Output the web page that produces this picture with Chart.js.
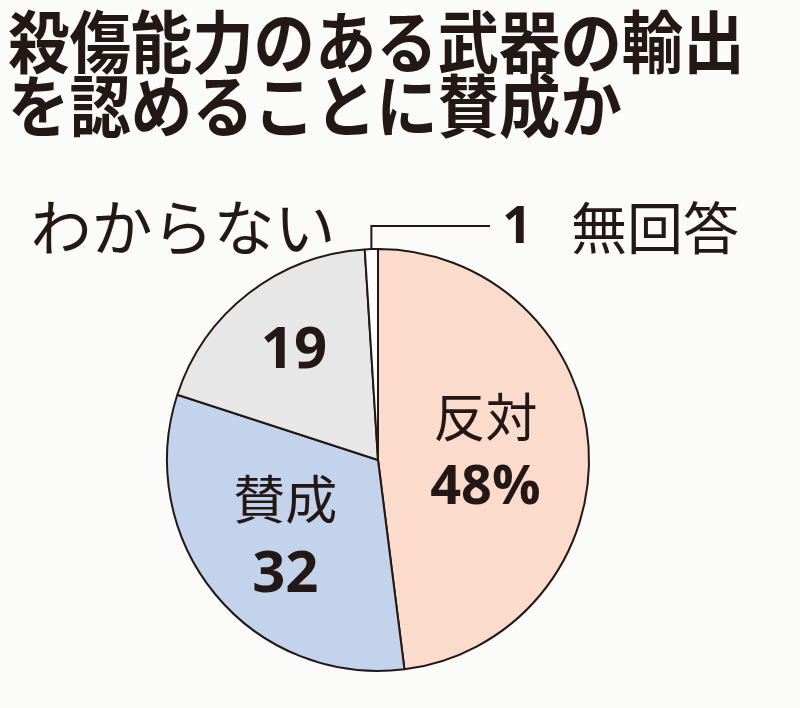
<!DOCTYPE html>
<html><head><meta charset="utf-8">
<script src="https://cdn.jsdelivr.net/npm/chart.js@4"></script>
<style>html,body{margin:0;padding:0;background:#fbfbfa;}#wrap{position:relative;width:800px;height:708px;}</style>
</head><body><div id="wrap"><canvas id="c" width="800" height="708"></canvas></div>
<script>
const titleLines = ["殺傷能力のある武器の輸出", "を認めることに賛成か"];
const categories = ["反対", "賛成", "わからない", "無回答"];
const values = [48, 32, 19, 1];
const valueLabels = ["48%", "32", "19", "1"];
const colors = ["#fbdccc", "#c4d3ec", "#e7e7e7", "#ffffff"];

const ink = "#231815";
const JP = '"Noto Sans CJK JP", "Noto Sans", sans-serif';
const NUM = '"Open Sans", "Noto Sans", sans-serif';

const labelPlugin = {
  id: 'labels',
  afterDraw(chart) {
    const ctx = chart.ctx;
    ctx.save();
    ctx.fillStyle = ink;
    ctx.textBaseline = 'middle';
    // title (slightly tall, condensed look)
    ctx.textAlign = 'left';
    ctx.font = 'bold 62px ' + JP;
    ctx.save();
    ctx.translate(8, 0);
    ctx.scale(0.99, 1.1);
    ctx.fillText(titleLines[0], 0, 42 / 1.1);
    ctx.fillText(titleLines[1], 0, 106 / 1.1);
    ctx.restore();

    const meta = chart.getDatasetMeta(0);
    const arcs = meta.data;
    const place = (arc, frac) => {
      const mid = (arc.startAngle + arc.endAngle) / 2;
      const r = arc.outerRadius * frac;
      return {x: arc.x + Math.cos(mid) * r, y: arc.y + Math.sin(mid) * r};
    };
    ctx.textAlign = 'center';
    // 反対
    let p = place(arcs[0], 0.51);
    ctx.font = '52px ' + JP;
    ctx.fillText(categories[0], p.x, p.y - 36);
    ctx.font = 'bold 54px ' + NUM;
    ctx.fillText(valueLabels[0], p.x, p.y + 35);
    // 賛成
    p = place(arcs[1], 0.57);
    ctx.font = '52px ' + JP;
    ctx.fillText(categories[1], p.x, p.y - 37);
    ctx.font = 'bold 58px ' + NUM;
    ctx.fillText(valueLabels[1], p.x, p.y + 39);
    // わからない value
    p = place(arcs[2], 0.65);
    ctx.font = 'bold 58px ' + NUM;
    ctx.fillText(valueLabels[2], p.x, p.y);
    // わからない name (outside)
    ctx.font = '61px ' + JP;
    ctx.fillText(categories[2], 183, 228);

    // 無回答 leader
    const a = arcs[3];
    const mid = (a.startAngle + a.endAngle) / 2;
    const sx = a.x + Math.cos(mid) * a.outerRadius;
    const sy = a.y + Math.sin(mid) * a.outerRadius;
    ctx.strokeStyle = ink;
    ctx.lineWidth = 2;
    ctx.beginPath();
    ctx.moveTo(sx, sy);
    ctx.lineTo(sx, 226);
    ctx.lineTo(490, 226);
    ctx.stroke();
    ctx.font = 'bold 52px ' + NUM;
    ctx.fillText(valueLabels[3], 517, 228);
    ctx.font = '56px ' + JP;
    ctx.textAlign = 'left';
    ctx.fillText(categories[3], 571, 228);
    ctx.restore();
  }
};

new Chart(document.getElementById('c'), {
  type: 'pie',
  data: {
    labels: categories,
    datasets: [{
      data: values,
      backgroundColor: colors,
      borderColor: ink,
      borderWidth: 2
    }]
  },
  options: {
    responsive: false,
    animation: false,
    rotation: 0,
    layout: {padding: {left: 166, right: 210, top: 248, bottom: 36}},
    plugins: {legend: {display: false}, tooltip: {enabled: false}, title: {display: false}}
  },
  plugins: [labelPlugin]
});
</script>
</body></html>
